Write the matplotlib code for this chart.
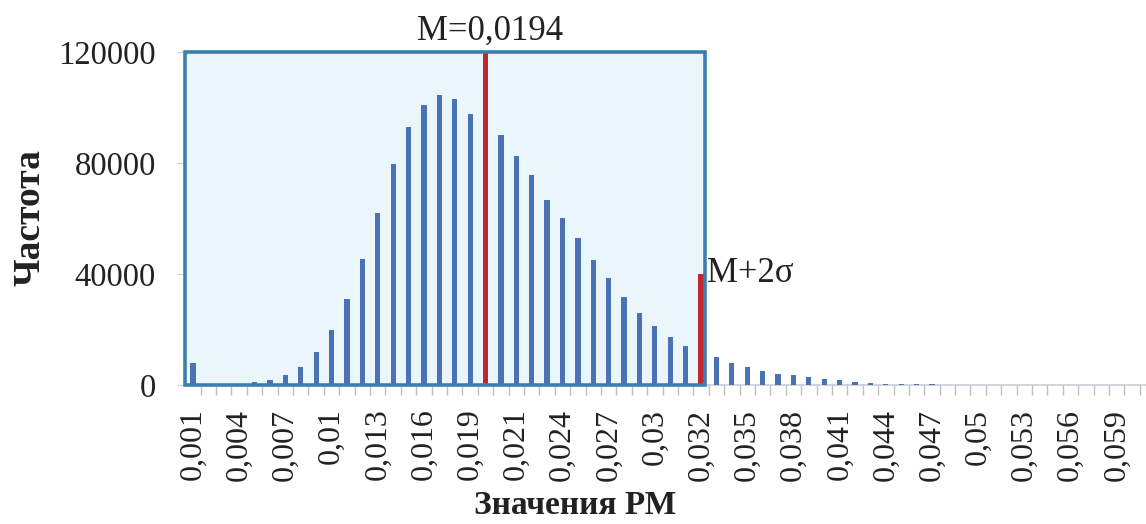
import matplotlib
matplotlib.use("Agg")
import matplotlib.pyplot as plt
from matplotlib.patches import Rectangle
from matplotlib.ticker import FixedLocator, FuncFormatter

plt.rcParams['font.family'] = ['Liberation Serif', 'DejaVu Serif']

# ---- data ----
categories = ([round(0.001 * i, 3) for i in range(1, 20)] + [0.0194] +
              [round(0.001 * i, 3) for i in range(20, 33)] + [0.0324] +
              [round(0.001 * i, 3) for i in range(33, 61)])
frequencies = [8000, 200, 300, 500, 1000, 1800, 3500, 6500, 12000, 20000,
               31000, 45500, 62000, 79500, 93000, 101000, 104500, 103000, 97500, 0,
               90000, 82500, 75500, 66500, 60000, 53000, 45000, 38500, 31800, 25900,
               21300, 17300, 14000, 0, 10000, 8000, 6500, 5000, 4000, 3500,
               3000, 2200, 1800, 1200, 800, 500, 300, 250, 200, 150,
               150, 120, 100, 100, 80, 80, 60, 60, 50, 50, 40, 40]
mean_value = 0.0194
mean_label = "M=0,0194"
mean_height = 120000
sigma_value = 0.0324
sigma_label = "M+2σ"
sigma_height = 40000
y_ticks = [0, 40000, 80000, 120000]
x_title = "Значения РМ"
y_title = "Частота"

# ---- figure ----
fig = plt.figure(figsize=(11.46, 5.24), dpi=100)
ax = fig.add_axes([185 / 1146, 1 - 385 / 524, 1 - 185 / 1146, (385 - 52) / 524])

x = list(range(len(categories)))
ax.bar(x, frequencies, width=0.34, color="#4a72b4", zorder=2)
i_mean = categories.index(mean_value)
i_sig = categories.index(sigma_value)
ax.bar([i_mean], [mean_height], width=0.3, color="#c3262e", zorder=3)
ax.bar([i_sig], [sigma_height], width=0.4, color="#c3262e", zorder=3)

xl = -0.52
ax.set_xlim(xl, 61.9)
ax.set_ylim(0, 120000)

# highlighted box up to M+2sigma
ax.add_patch(Rectangle((xl, 0), i_sig + 0.27 - xl, 120000, facecolor="#eaf5fc",
                       edgecolor="none", zorder=0))
ax.add_patch(Rectangle((xl, 0), i_sig + 0.27 - xl, 120000, facecolor="none",
                       edgecolor="#3c7fae", linewidth=2.6, zorder=4, clip_on=False))

for s in ["top", "right", "left"]:
    ax.spines[s].set_visible(False)
ax.spines["bottom"].set_color("#c8cdd4")
ax.spines["bottom"].set_linewidth(1.2)
ax.spines["bottom"].set_zorder(1)

ax.set_yticks(y_ticks)
ax.set_yticklabels([str(v) for v in y_ticks])
ax.tick_params(axis="y", length=6, color="#d0d0d0", pad=15, labelsize=23.5, labelcolor="#222222")

ax.xaxis.set_major_locator(FixedLocator(x[::3]))
ax.xaxis.set_minor_locator(FixedLocator([i + 0.5 for i in x]))
ax.xaxis.set_major_formatter(FuncFormatter(
    lambda v, p: f"{categories[int(round(v))]:.3f}".rstrip("0").replace(".", ",")))
ax.tick_params(axis="x", which="major", length=0, pad=17, labelsize=23,
               labelrotation=90, labelcolor="#222222")
ax.tick_params(axis="x", which="minor", length=7, color="#c0c0c0", width=1)

ax.text(i_mean + 0.3, 121500, mean_label, ha="center", va="bottom", fontsize=25, color="#222222")
ax.text(i_sig + 0.4, sigma_height, sigma_label, ha="left", va="center", fontsize=25, color="#222222")

fig.text(575 / 1146, 1 - 521 / 524, x_title, ha="center", va="bottom", fontsize=24,
         fontweight="bold", color="#222222")
fig.text(30 / 1146, 1 - 218 / 524, y_title, ha="center", va="center", fontsize=27,
         fontweight="bold", rotation=90, color="#222222")

fig.savefig("out.png", dpi=100)
